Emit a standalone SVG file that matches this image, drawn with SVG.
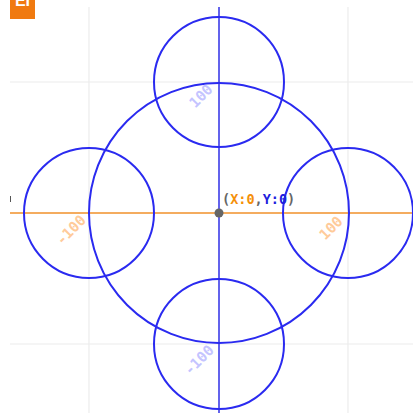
<svg xmlns="http://www.w3.org/2000/svg" width="413" height="415" viewBox="0 0 413 415">
<style>
.grid{stroke:#ececec;stroke-width:1.2;fill:none}
.circ{fill:none;stroke:#2a2af0;stroke-width:2}
.lbl{font-family:"DejaVu Sans Mono","Liberation Mono",monospace;font-weight:bold;font-size:14.5px;text-anchor:middle;dominant-baseline:central}
.lo{fill:#ffcb9a}
.lb{fill:#c4c4ff}
</style>
<rect width="413" height="415" fill="#ffffff"/>
<g id="grid">
<line class="grid" x1="89" y1="7" x2="89" y2="413"/>
<line class="grid" x1="348" y1="7" x2="348" y2="413"/>
<line class="grid" x1="10" y1="82" x2="413" y2="82"/>
<line class="grid" x1="10" y1="344" x2="413" y2="344"/>
</g>
<g id="badge">
<rect x="10" y="0" width="25" height="19" fill="#f07a10"/>
<text x="22.5" y="6" font-family="Liberation Sans, sans-serif" font-weight="bold" font-size="16" fill="#ffffff" text-anchor="middle">EI</text>
</g>
<line x1="10.5" y1="196" x2="10.5" y2="202" stroke="#555" stroke-width="1"/>
<g id="connectors">
<line x1="10" y1="213" x2="413" y2="213" stroke="#f0902a" stroke-width="1.5"/>
<line x1="219" y1="7" x2="219" y2="413" stroke="#2f2fe6" stroke-width="1.5"/>
</g>
<g id="big-circle"><circle class="circ" cx="219" cy="213" r="130"/></g>
<g id="top-circle"><circle class="circ" cx="219" cy="82" r="65"/></g>
<g id="bottom-circle"><circle class="circ" cx="219" cy="344" r="65"/></g>
<g id="left-circle"><circle class="circ" cx="89" cy="213" r="65"/></g>
<g id="right-circle"><circle class="circ" cx="348" cy="213" r="65"/></g>
<g id="labels">
<text class="lbl lb" transform="translate(201,96) rotate(-45)">100</text>
<text class="lbl lo" transform="translate(71,230) rotate(-45)">-100</text>
<text class="lbl lo" transform="translate(331,228) rotate(-45)">100</text>
<text class="lbl lb" transform="translate(199,360) rotate(-45)">-100</text>
</g>
<g id="origin">
<circle cx="219" cy="213" r="4.5" fill="#666666"/>
<text x="222" y="204" font-family="DejaVu Sans Mono, Liberation Mono, monospace" font-weight="bold" font-size="13.5"><tspan fill="#666666">(</tspan><tspan fill="#f5900a">X:0</tspan><tspan fill="#666666">,</tspan><tspan fill="#2020dd">Y:0</tspan><tspan fill="#666666">)</tspan></text>
</g>
</svg>
